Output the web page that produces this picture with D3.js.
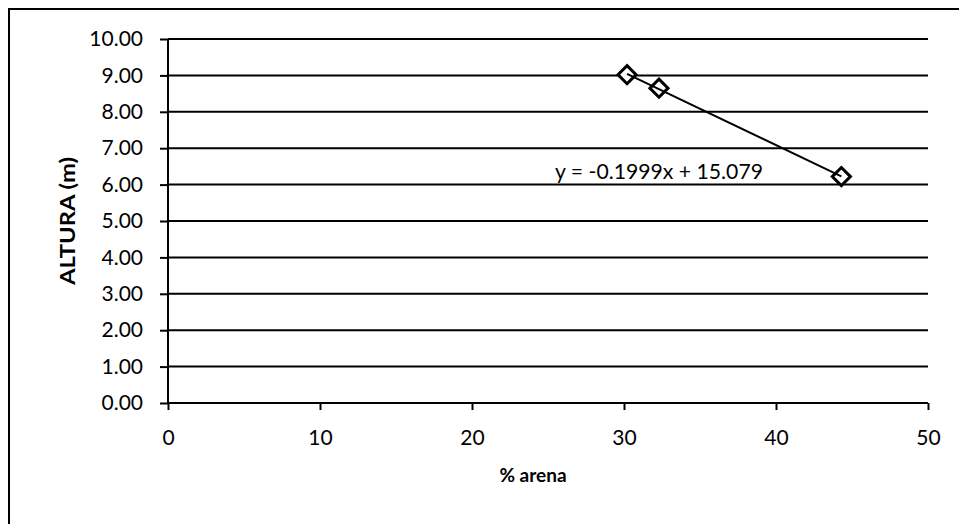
<!DOCTYPE html>
<html>
<head>
<meta charset="utf-8">
<script src="https://cdn.jsdelivr.net/npm/d3@7"></script>
<style>
  html, body { margin: 0; padding: 0; background: #fff; }
  svg { display: block; }
  text { font-family: Lato, "Open Sans", sans-serif; fill: #000; }
</style>
</head>
<body>
<svg id="chart" width="959" height="524"></svg>
<script>
// Sand percentage vs. height measurements
const arena = [30.2, 32.3, 44.3];
const altura = [9.02, 8.65, 6.22];

// Linear trendline coefficients
const slope = -0.1999;
const intercept = 15.079;
const equationLabel = "y = -0.1999x + 15.079";

const xTicks = [0, 10, 20, 30, 40, 50];
const yTicks = [0, 1, 2, 3, 4, 5, 6, 7, 8, 9, 10];

const xTitle = "% arena";
const yTitle = "ALTURA (m)";

const svg = d3.select("#chart");
const W = 959, H = 524;
const margin = { left: 168, right: 31, top: 39, bottom: 121 };

const x = d3.scaleLinear().domain([0, 50]).range([margin.left, W - margin.right]);
const y = d3.scaleLinear().domain([0, 10]).range([H - margin.bottom, margin.top]);

// Outer chart frame (extends past the right and bottom edges)
svg.append("rect")
  .attr("x", 9).attr("y", 9)
  .attr("width", 980).attr("height", 560)
  .attr("fill", "none").attr("stroke", "#000").attr("stroke-width", 2);

// Horizontal gridlines
svg.append("g")
  .selectAll("line")
  .data(yTicks.filter(d => d > 0))
  .join("line")
  .attr("x1", x(0)).attr("x2", x(50))
  .attr("y1", d => y(d)).attr("y2", d => y(d))
  .attr("stroke", "#000").attr("stroke-width", 2);

// Y axis
const yAxis = svg.append("g")
  .attr("transform", `translate(${x(0)},0)`)
  .call(d3.axisLeft(y).tickValues(yTicks).tickFormat(d3.format(".2f")).tickSize(8).tickPadding(17));
yAxis.select(".domain").attr("stroke", "#000").attr("stroke-width", 2).attr("d", `M0,${y(0)}V${y(10)}`);
yAxis.selectAll(".tick line").attr("stroke", "#000").attr("stroke-width", 2);
yAxis.selectAll(".tick text").attr("font-size", 21).attr("font-family", "Lato, sans-serif").attr("fill", "#000");

// X axis
const xAxis = svg.append("g")
  .attr("transform", `translate(0,${y(0)})`)
  .call(d3.axisBottom(x).tickValues(xTicks).tickFormat(d3.format("d")).tickSize(7).tickPadding(20));
xAxis.select(".domain").attr("stroke", "#000").attr("stroke-width", 2).attr("d", `M${x(0)},0H${x(50)}`);
xAxis.selectAll(".tick line").attr("stroke", "#000").attr("stroke-width", 2);
xAxis.selectAll(".tick text").attr("font-size", 21).attr("font-family", "Lato, sans-serif").attr("fill", "#000");

// Axis titles
svg.append("text")
  .attr("x", 533).attr("y", 482)
  .attr("text-anchor", "middle")
  .attr("font-size", 19).attr("font-weight", "bold")
  .text(xTitle);

svg.append("text")
  .attr("transform", `translate(75,${(y(0) + y(10)) / 2}) rotate(-90)`)
  .attr("text-anchor", "middle")
  .attr("font-size", 21).attr("font-weight", "bold")
  .attr("textLength", 128).attr("lengthAdjust", "spacingAndGlyphs")
  .text(yTitle);

// Diamond markers
const diamond = d3.symbol().type(d3.symbolDiamond2).size(210);
svg.append("g")
  .selectAll("path")
  .data(arena.map((a, i) => [a, altura[i]]))
  .join("path")
  .attr("d", diamond)
  .attr("transform", d => `translate(${x(d[0])},${y(d[1])})`)
  .attr("fill", "#fff").attr("stroke", "#000").attr("stroke-width", 3);

// Trendline across the data range, drawn over the markers
const xMin = d3.min(arena), xMax = d3.max(arena);
svg.append("line")
  .attr("x1", x(xMin)).attr("y1", y(slope * xMin + intercept))
  .attr("x2", x(xMax)).attr("y2", y(slope * xMax + intercept))
  .attr("stroke", "#000").attr("stroke-width", 2);

// Trendline equation
svg.append("text")
  .attr("x", 555).attr("y", 179)
  .attr("font-size", 21)
  .attr("textLength", 208).attr("lengthAdjust", "spacingAndGlyphs")
  .text(equationLabel);
</script>
</body>
</html>
